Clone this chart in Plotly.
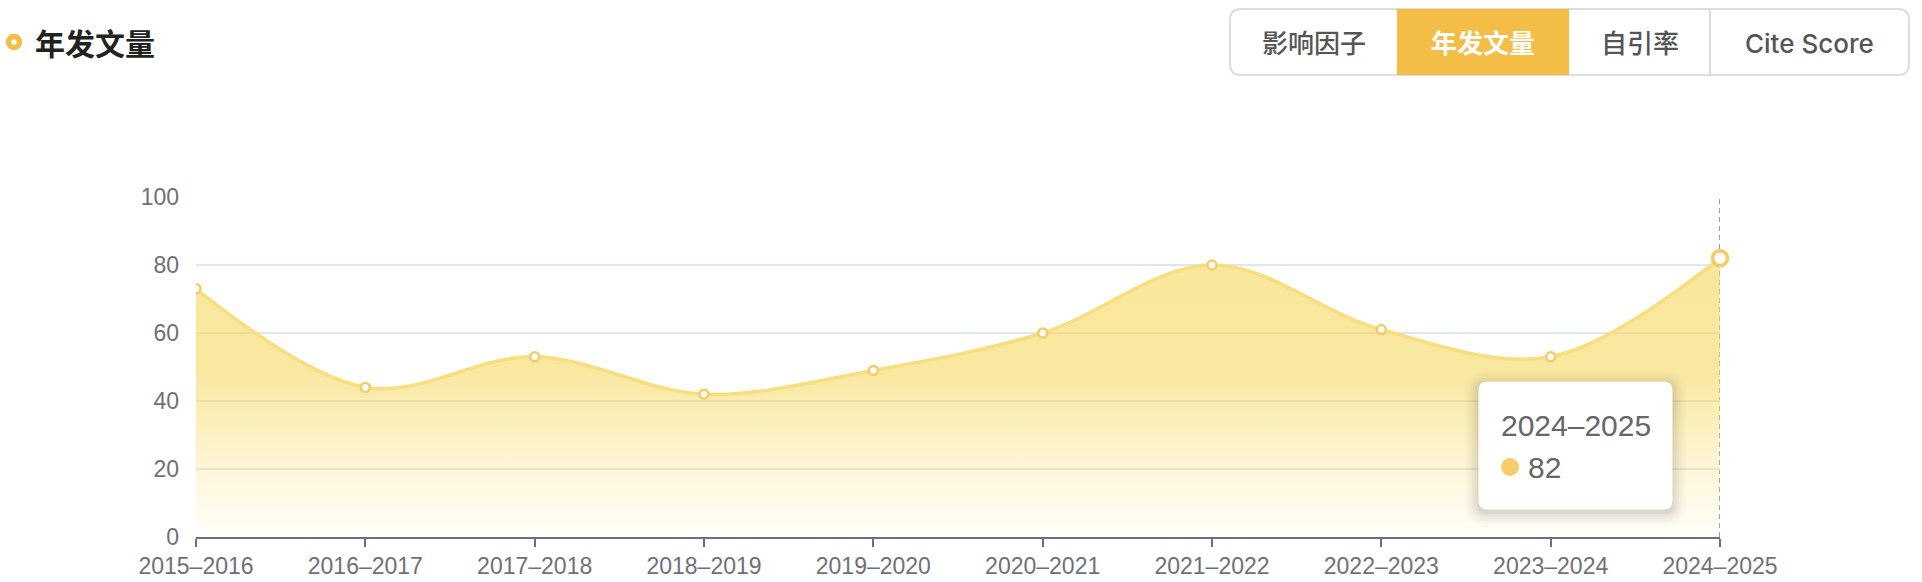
import plotly.graph_objects as go

# ---------------- data ----------------
categories = ["2015–2016", "2016–2017", "2017–2018", "2018–2019", "2019–2020",
              "2020–2021", "2021–2022", "2022–2023", "2023–2024", "2024–2025"]
values = [73, 44, 53, 42, 49, 60, 80, 61, 53, 82]
y_ticks = [0, 20, 40, 60, 80, 100]
title_text = "年发文量"
buttons = ["影响因子", "年发文量", "自引率", "Cite Score"]
active_button = "年发文量"

# ---------------- style / layout ----------------
W, H = 1922, 582
PL, PR, PT, PB = 196, 1720, 197, 537   # plot area in window pixels
FONT = "Liberation Sans, Arial, Noto Sans CJK SC, sans-serif"
UI = "Inter, Noto Sans CJK SC, sans-serif"
CJK = "Noto Sans CJK SC, Liberation Sans, sans-serif"
LINE_C = "#F9DE7E"
MARK_C = "#F6CB62"
AXIS_C = "#6E7079"
GRID_C = "#E0E6F1"
ORANGE = "#F4BD45"


def px(x):
    return (x - PL) / (PR - PL)


def py(y):
    return (PB - y) / (PB - PT)


def rrect(x0, y0, x1, y1, r):
    """rounded rectangle path in paper coords, inputs in window pixels"""
    pts = [
        f"M {px(x0 + r)} {py(y0)}",
        f"L {px(x1 - r)} {py(y0)}",
        f"Q {px(x1)} {py(y0)} {px(x1)} {py(y0 + r)}",
        f"L {px(x1)} {py(y1 - r)}",
        f"Q {px(x1)} {py(y1)} {px(x1 - r)} {py(y1)}",
        f"L {px(x0 + r)} {py(y1)}",
        f"Q {px(x0)} {py(y1)} {px(x0)} {py(y1 - r)}",
        f"L {px(x0)} {py(y0 + r)}",
        f"Q {px(x0)} {py(y0)} {px(x0 + r)} {py(y0)}",
        "Z",
    ]
    return " ".join(pts)


fig = go.Figure()

fig.add_trace(go.Scatter(
    x=categories, y=values, mode="lines+markers",
    line=dict(color=LINE_C, width=3.5, shape="spline", smoothing=1.0),
    marker=dict(symbol="circle", size=9, color="white",
                line=dict(color=MARK_C, width=2.5)),
    fill="tozeroy",
    fillgradient=dict(
        type="vertical",
        start=0, stop=max(values),
        colorscale=[[0, "rgba(250,225,110,0.03)"],
                    [0.45, "rgba(246,216,92,0.45)"],
                    [0.6, "rgba(245,215,90,0.58)"],
                    [1, "rgba(245,215,90,0.6)"]],
    ),
    hoverinfo="skip",
    showlegend=False,
))

# highlighted last point
fig.add_trace(go.Scatter(
    x=[categories[-1]], y=[values[-1]], mode="markers",
    marker=dict(symbol="circle", size=15, color="white",
                line=dict(color=MARK_C, width=3.5)),
    hoverinfo="skip", showlegend=False, cliponaxis=False,
))

shapes = []
annotations = []

# axis pointer (dashed)
shapes.append(dict(type="line", xref="x", yref="y",
                   x0=categories[-1], x1=categories[-1], y0=0, y1=max(y_ticks),
                   line=dict(color="#8F93A0", width=1.8, dash="5px,4px"), layer="below"))

# tooltip shadow + box
tx0, ty0, tx1, ty1 = 1479, 382, 1672, 509
for i, op in enumerate([0.035, 0.03, 0.025, 0.02, 0.015, 0.01]):
    d = 2 + i * 2.5
    shapes.append(dict(type="path", xref="paper", yref="paper",
                       path=rrect(tx0 - d, ty0 - d + 3, tx1 + d, ty1 + d + 3, 8 + d),
                       fillcolor=f"rgba(0,0,0,{op})", line=dict(width=0), layer="above"))
shapes.append(dict(type="path", xref="paper", yref="paper",
                   path=rrect(tx0, ty0, tx1, ty1, 8),
                   fillcolor="white", line=dict(color="white", width=1), layer="above"))
# tooltip dot
shapes.append(dict(type="circle", xref="paper", yref="paper",
                   x0=px(1501), x1=px(1519), y0=py(458), y1=py(476),
                   fillcolor="#F6CD66", line=dict(width=0), layer="above"))
annotations.append(dict(xref="paper", yref="paper", x=px(1499), y=py(425),
                        text=categories[-1], showarrow=False, xanchor="left", yanchor="middle",
                        font=dict(family=FONT, size=30, color="#666666")))
annotations.append(dict(xref="paper", yref="paper", x=px(1526), y=py(467),
                        text=str(values[-1]), showarrow=False, xanchor="left", yanchor="middle",
                        font=dict(family=FONT, size=30, color="#666666")))

# title with ring icon
shapes.append(dict(type="circle", xref="paper", yref="paper",
                   x0=px(14 - 5.5), x1=px(14 + 5.5), y0=py(42 + 5.5), y1=py(42 - 5.5),
                   fillcolor="white", line=dict(color=ORANGE, width=5.5), layer="above"))
annotations.append(dict(xref="paper", yref="paper", x=px(33), y=py(42),
                        text=f"<b>{title_text}</b>", showarrow=False, xanchor="left",
                        yanchor="middle", font=dict(family=CJK, size=30, color="#222222")))

# button group
bx = [1230, 1397, 1569, 1710, 1909]
by0, by1 = 9, 75
shapes.append(dict(type="path", xref="paper", yref="paper",
                   path=rrect(bx[0], by0, bx[-1], by1, 11),
                   fillcolor="white", line=dict(color="#DCDDE1", width=2), layer="above"))
for i, name in enumerate(buttons):
    active = name == active_button
    if active:
        shapes.append(dict(type="rect", xref="paper", yref="paper",
                           x0=px(bx[i]), x1=px(bx[i + 1]), y0=py(by1), y1=py(by0),
                           fillcolor=ORANGE, line=dict(width=0), layer="above"))
    elif i > 0 and buttons[i - 1] != active_button:
        shapes.append(dict(type="line", xref="paper", yref="paper",
                           x0=px(bx[i]), x1=px(bx[i]), y0=py(by1 - 1), y1=py(by0 + 1),
                           line=dict(color="#DCDDE1", width=2), layer="above"))
    annotations.append(dict(xref="paper", yref="paper",
                            x=px((bx[i] + bx[i + 1]) / 2), y=py((by0 + by1) / 2 + 1),
                            text=name,
                            showarrow=False, xanchor="center", yanchor="middle",
                            font=dict(family=UI, size=26,
                                      weight=600 if active else 500,
                                      color="white" if active else "#555555")))

fig.update_layout(
    width=W, height=H,
    margin=dict(l=PL, r=W - PR, t=PT, b=H - PB, pad=0),
    paper_bgcolor="white", plot_bgcolor="white",
    shapes=shapes, annotations=annotations,
    hovermode=False,
    xaxis=dict(
        type="category", range=[0, len(categories) - 1],
        automargin=False,
        showgrid=False, zeroline=False,
        showline=True, linecolor=AXIS_C, linewidth=2,
        ticks="outside", ticklen=8, tickwidth=1.5, tickcolor=AXIS_C,
        tickfont=dict(family=FONT, size=23, color=AXIS_C),
        ticklabelstandoff=-1,
    ),
    yaxis=dict(
        range=[0, max(y_ticks)], tickvals=y_ticks,
        automargin=False,
        showgrid=True, gridcolor=GRID_C, gridwidth=1.5,
        zeroline=False, showline=False, ticks="",
        tickfont=dict(family=FONT, size=23, color=AXIS_C),
        ticklabelstandoff=16,
    ),
)

fig.write_html(
    "out.html",
    config={"displayModeBar": False},
    post_script="document.body.style.margin='0';document.body.style.overflow='hidden';",
)
